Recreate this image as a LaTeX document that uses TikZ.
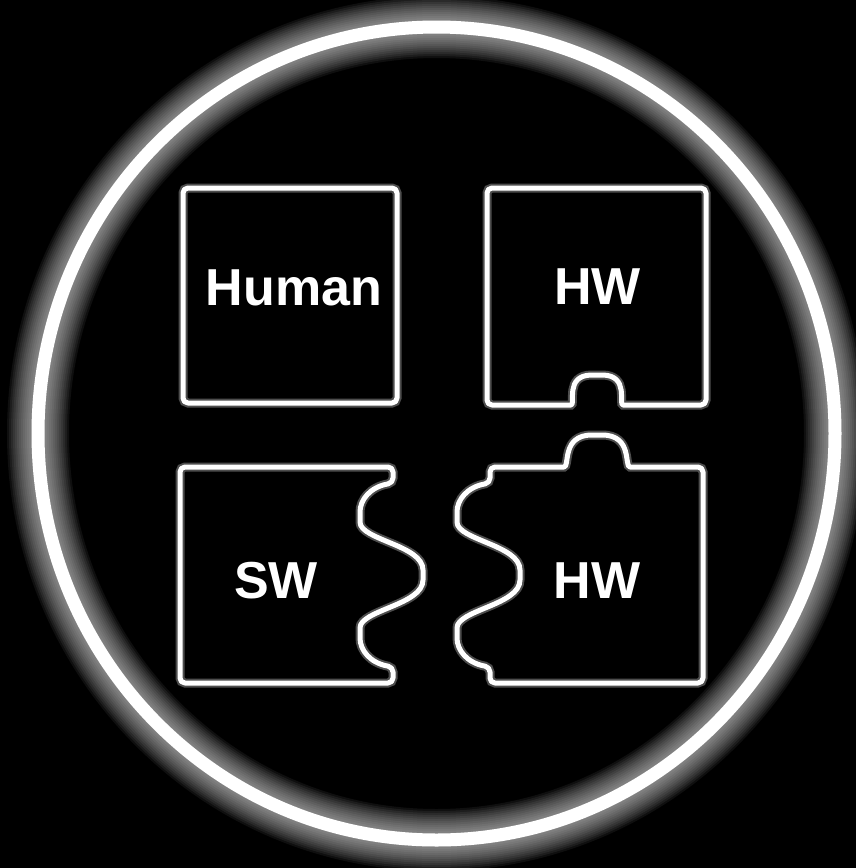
\documentclass[tikz,border=0pt]{standalone}
\usepackage{fontspec}
\setmainfont{Liberation Sans}
\usepackage{tikz}
\usetikzlibrary{calc}

\tikzset{
    glowline/.style={draw=white, line width=5, line join=round,
        preaction={draw=white!60, line width=9, opacity=0.3}},
    piece/.style={glowline, rounded corners=5},
    lbl/.style={text=white, font=\fontsize{52}{60}\selectfont\bfseries, inner sep=0pt}
}

\begin{document}
\begin{tikzpicture}[x=1pt, y=-1pt]
    % background and frame
    \fill[black] (0,0) rectangle (856,868);
    \useasboundingbox (0,0) rectangle (856,868);
    \coordinate (mid) at (436.5,433.5);

    % outer ring with soft halo
    \foreach \w in {62,58,...,14}
        \draw[white!65, line width=\w, opacity=0.06] (mid) ellipse [x radius=398.5, y radius=406.5];
    \draw[white, line width=13] (mid) ellipse [x radius=398.5, y radius=406.5];

    % Human piece
    \draw[piece] (183,188) rectangle (397,403);

    % HW piece with socket at the bottom
    \draw[piece] (487,188) -- (706,188) -- (706,405) -- (628,405)
        .. controls (618,405) and (630,375) .. (597,375)
        .. controls (564,375) and (576,405) .. (566,405)
        -- (487,405) -- cycle;

    % SW piece with wavy right edge
    \draw[piece] (180,467) -- (393,467) -- (393,483)
        .. controls (370,487) and (360,500) .. (360,517)
        .. controls (360,540) and (423,545) .. (423,575)
        .. controls (423,605) and (360,610) .. (360,633)
        .. controls (360,650) and (370,663) .. (393,667)
        -- (393,683) -- (180,683) -- cycle;

    % HW piece with knob on top and wavy left edge
    \draw[piece] (490,467) -- (559,467)
        .. controls (570,467) and (561,435) .. (597,435)
        .. controls (633,435) and (624,467) .. (635,467)
        -- (703,467) -- (703,683) -- (490,683) -- (490,667)
        .. controls (467,663) and (457,650) .. (457,633)
        .. controls (457,610) and (520,605) .. (520,575)
        .. controls (520,545) and (457,540) .. (457,517)
        .. controls (457,500) and (467,487) .. (490,483)
        -- cycle;

    % labels
    \node[lbl] (human) at (294,288) {Human};
    \node[lbl] (hwtop) at (597.5,287) {HW};
    \node[lbl] (sw) at (276,581) {SW};
    \node[lbl] (hwbot) at (597,581) {HW};
\end{tikzpicture}
\end{document}
